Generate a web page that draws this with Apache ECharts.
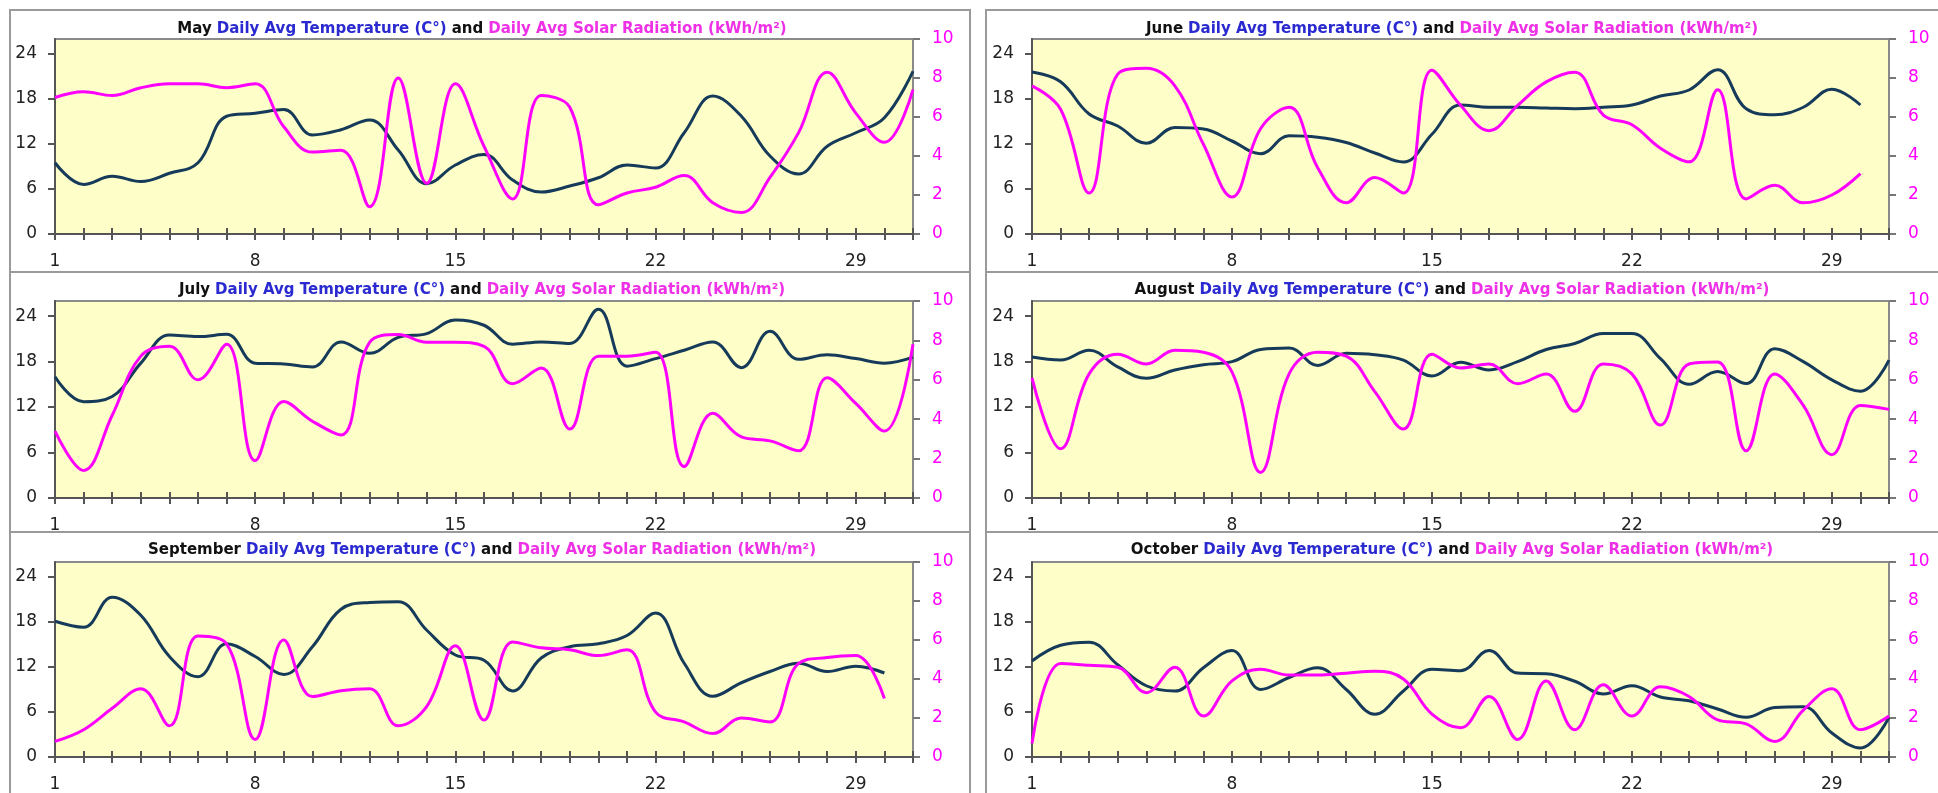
<!DOCTYPE html>
<html>
<head>
<meta charset="utf-8">
<title>Daily Avg Temperature and Solar Radiation</title>
<script src="https://cdn.jsdelivr.net/npm/echarts@6/dist/echarts.min.js"></script>
<style>
html, body { margin: 0; padding: 0; background: #fff; }
#chart { width: 1938px; height: 793px; }
</style>
</head>
<body>
<div id="chart"></div>
<script>
// days of the month, the axis always has 31 slots
const days = [1, 2, 3, 4, 5, 6, 7, 8, 9, 10, 11, 12, 13, 14, 15, 16, 17, 18, 19, 20, 21, 22, 23, 24, 25, 26, 27, 28, 29, 30, 31];
const tempTicks = [0, 6, 12, 18, 24];
const solarTicks = [0, 2, 4, 6, 8, 10];

// daily avg temperature (C)
const mayTemp = [9.5, 6.6, 7.7, 7.0, 8.1, 9.5, 15.7, 16.1, 16.6, 13.2, 13.9, 15.2, 11.2, 6.7, 9.2, 10.6, 7.2, 5.6, 6.4, 7.5, 9.2, 8.8, 13.5, 18.4, 15.7, 10.4, 8.0, 11.7, 13.5, 15.5, 21.7];
const juneTemp = [21.6, 20.3, 16.0, 14.4, 12.1, 14.2, 14.0, 12.4, 10.7, 13.1, 12.9, 12.2, 10.8, 9.6, 13.3, 17.2, 16.9, 16.9, 16.8, 16.7, 16.9, 17.2, 18.4, 19.2, 21.9, 16.7, 15.9, 16.9, 19.3, 17.2];
const julyTemp = [16.0, 12.7, 13.4, 17.8, 21.5, 21.3, 21.6, 17.8, 17.7, 17.3, 20.6, 19.1, 21.2, 21.7, 23.5, 22.8, 20.3, 20.6, 20.4, 24.9, 17.4, 18.4, 19.5, 20.6, 17.2, 22.0, 18.3, 18.9, 18.4, 17.8, 18.6];
const augTemp = [18.6, 18.2, 19.5, 17.3, 15.8, 16.9, 17.6, 18.0, 19.6, 19.8, 17.5, 19.1, 18.9, 18.2, 16.1, 17.9, 16.9, 18.0, 19.6, 20.4, 21.7, 21.7, 18.4, 15.0, 16.7, 15.1, 19.7, 18.0, 15.6, 14.1, 18.2];
const sepTemp = [18.1, 17.3, 21.3, 18.9, 13.4, 10.7, 15.1, 13.4, 11.0, 14.7, 19.7, 20.6, 20.7, 16.9, 13.6, 12.9, 8.8, 13.2, 14.7, 15.1, 16.2, 19.2, 12.5, 8.1, 9.9, 11.4, 12.5, 11.4, 12.1, 11.2];
const octTemp = [12.8, 14.9, 15.3, 12.3, 9.5, 8.8, 11.9, 14.2, 9.0, 10.6, 11.9, 9.0, 5.7, 8.8, 11.7, 11.5, 14.2, 11.2, 11.1, 10.1, 8.4, 9.5, 8.0, 7.5, 6.4, 5.3, 6.6, 6.7, 3.2, 1.2, 5.3];

// daily avg solar radiation (kWh/m2)
const maySolar = [7.0, 7.3, 7.1, 7.5, 7.7, 7.7, 7.5, 7.7, 5.5, 4.2, 4.3, 1.4, 8.0, 2.6, 7.7, 4.5, 1.8, 7.1, 6.5, 1.5, 2.1, 2.4, 3.0, 1.6, 1.1, 2.9, 5.2, 8.3, 6.2, 4.7, 7.4];
const juneSolar = [7.6, 6.4, 2.1, 8.2, 8.5, 7.6, 4.6, 1.9, 5.4, 6.5, 3.4, 1.6, 2.9, 2.1, 8.4, 6.6, 5.3, 6.6, 7.8, 8.3, 6.1, 5.6, 4.4, 3.7, 7.4, 1.8, 2.5, 1.6, 2.0, 3.1];
const julySolar = [3.4, 1.4, 4.2, 7.2, 7.7, 6.0, 7.8, 1.9, 4.9, 3.9, 3.2, 7.9, 8.3, 7.9, 7.9, 7.7, 5.8, 6.6, 3.5, 7.2, 7.2, 7.4, 1.6, 4.3, 3.1, 2.9, 2.4, 6.1, 4.8, 3.4, 7.8];
const augSolar = [6.1, 2.5, 6.3, 7.3, 6.8, 7.5, 7.4, 6.4, 1.3, 6.3, 7.4, 7.2, 5.4, 3.5, 7.3, 6.6, 6.8, 5.8, 6.3, 4.4, 6.8, 6.3, 3.7, 6.8, 6.9, 2.4, 6.3, 4.7, 2.2, 4.7, 4.5];
const sepSolar = [0.8, 1.4, 2.5, 3.5, 1.6, 6.2, 5.8, 0.9, 6.0, 3.1, 3.4, 3.5, 1.6, 2.6, 5.7, 1.9, 5.9, 5.6, 5.5, 5.2, 5.5, 2.3, 1.8, 1.2, 2.0, 1.8, 4.8, 5.1, 5.2, 3.0];
const octSolar = [0.7, 4.8, 4.7, 4.6, 3.3, 4.6, 2.1, 3.9, 4.5, 4.2, 4.2, 4.3, 4.4, 4.0, 2.2, 1.5, 3.1, 0.9, 3.9, 1.4, 3.7, 2.1, 3.6, 3.1, 1.9, 1.7, 0.8, 2.4, 3.5, 1.4, 2.1];

const months = [
  { name: "May", temp: mayTemp, solar: maySolar },
  { name: "June", temp: juneTemp, solar: juneSolar },
  { name: "July", temp: julyTemp, solar: julySolar },
  { name: "August", temp: augTemp, solar: augSolar },
  { name: "September", temp: sepTemp, solar: sepSolar },
  { name: "October", temp: octTemp, solar: octSolar }
];

// layout of the 3x2 panels
const colLeft = [55, 1032];
const colWidth = [858, 857];
const colCenter = [477, 1447];
const rowTop = [39, 301, 562];
const rowHeight = [195, 197, 198];
const titleTop = [15, 276, 536];

const font = "DejaVu Sans";
const tempColor = "#163a5a";
const solarColor = "#ff00ff";

const chart = echarts.init(document.getElementById("chart"));

const grids = [];
const xAxes = [];
const yAxes = [];
const series = [];
const titles = [];

months.forEach((m, i) => {
  const col = i % 2;
  const row = Math.floor(i / 2);

  grids.push({
    left: colLeft[col],
    top: rowTop[row],
    width: colWidth[col],
    height: rowHeight[row],
    show: true,
    backgroundColor: "#fefec8",
    borderColor: "#8a8a8a",
    borderWidth: 2
  });

  titles.push({
    left: colCenter[col],
    top: titleTop[row],
    textAlign: "center",
    text:
      "{k|" + m.name + "} {b|Daily Avg Temperature (C°)} {k|and} {p|Daily Avg Solar Radiation (kWh/m²)}",
    textStyle: {
      rich: {
        k: { color: "#111", fontWeight: "bold", fontSize: 15, fontFamily: font },
        b: { color: "#2a2ad0", fontWeight: "bold", fontSize: 15, fontFamily: font },
        p: { color: "#ee30e6", fontWeight: "bold", fontSize: 15, fontFamily: font }
      }
    }
  });

  // main x axis: line, outer half of the ticks, labels
  xAxes.push({
    gridIndex: i,
    type: "category",
    position: "bottom",
    data: days,
    boundaryGap: false,
    axisLine: { onZero: false, lineStyle: { color: "#555", width: 2 } },
    axisTick: { interval: 0, length: 6, lineStyle: { color: "#555", width: 2 } },
    axisLabel: { interval: 6, margin: 19, color: "#222", fontSize: 17, fontFamily: font },
    splitLine: { show: false }
  });
  // inner half of the ticks (ticks cross the axis)
  xAxes.push({
    gridIndex: i,
    type: "category",
    position: "bottom",
    data: days,
    boundaryGap: false,
    axisLine: { show: false, onZero: false },
    axisTick: { inside: true, interval: 0, length: 6, lineStyle: { color: "#555", width: 2 } },
    axisLabel: { show: false },
    splitLine: { show: false }
  });

  yAxes.push({
    gridIndex: i,
    type: "value",
    position: "left",
    min: 0,
    max: 26,
    axisLine: { show: true, lineStyle: { color: "#555", width: 2 } },
    axisTick: { show: true, length: 7, customValues: tempTicks, lineStyle: { color: "#555", width: 2 } },
    axisLabel: { customValues: tempTicks, margin: 18, color: "#222", fontSize: 17, fontFamily: font },
    splitLine: { show: false }
  });
  yAxes.push({
    gridIndex: i,
    type: "value",
    position: "right",
    min: 0,
    max: 10,
    axisLine: { show: true, lineStyle: { color: "#8a8a8a", width: 2 } },
    axisTick: { show: true, length: 7, customValues: solarTicks, lineStyle: { color: "#777", width: 2 } },
    axisLabel: { customValues: solarTicks, margin: 19, color: solarColor, fontSize: 17, fontFamily: font },
    splitLine: { show: false }
  });

  series.push({
    name: m.name + " temperature",
    type: "line",
    xAxisIndex: 2 * i,
    yAxisIndex: 2 * i,
    data: m.temp,
    smooth: 0.4,
    showSymbol: false,
    lineStyle: { color: tempColor, width: 3 },
    z: 3
  });
  series.push({
    name: m.name + " solar",
    type: "line",
    xAxisIndex: 2 * i,
    yAxisIndex: 2 * i + 1,
    data: m.solar,
    smooth: 0.4,
    showSymbol: false,
    lineStyle: { color: solarColor, width: 3 },
    z: 4
  });
});

// panel frames
const frameStyle = { fill: "none", stroke: "#9a9a9a", lineWidth: 2 };
const frames = [
  { type: "rect", shape: { x: 10, y: 10, width: 960, height: 262 }, style: frameStyle },
  { type: "rect", shape: { x: 10, y: 272, width: 960, height: 260 }, style: frameStyle },
  { type: "rect", shape: { x: 10, y: 532, width: 960, height: 270 }, style: frameStyle },
  { type: "rect", shape: { x: 986, y: 10, width: 960, height: 262 }, style: frameStyle },
  { type: "rect", shape: { x: 986, y: 272, width: 960, height: 260 }, style: frameStyle },
  { type: "rect", shape: { x: 986, y: 532, width: 960, height: 270 }, style: frameStyle }
];

chart.setOption({
  animation: false,
  backgroundColor: "#fff",
  title: titles,
  grid: grids,
  xAxis: xAxes,
  yAxis: yAxes,
  series: series,
  graphic: frames
});
</script>
</body>
</html>
